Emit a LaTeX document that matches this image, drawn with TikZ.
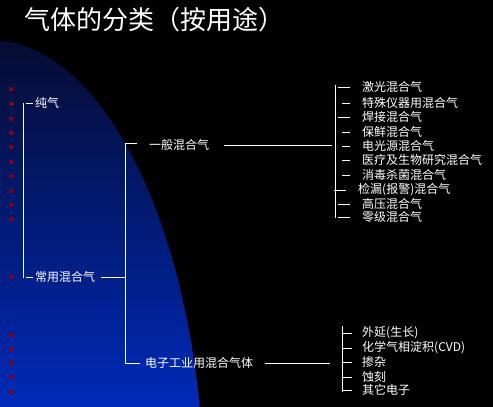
\documentclass[tikz,border=0pt]{standalone}
\usepackage{fontspec}
\setmainfont{Noto Sans CJK SC}
\usepackage{tikz}
\usetikzlibrary{positioning}
\definecolor{gasnavy}{RGB}{6,12,50}
\definecolor{gasblue}{RGB}{0,42,185}
\definecolor{gasred}{RGB}{128,0,24}
\tikzset{
  gaslabel/.style={text=white, inner sep=0pt, anchor=west, font=\fontsize{12}{14}\selectfont},
  treeline/.style={draw=white, line width=1pt},
}

\begin{document}
\begin{tikzpicture}[x=1pt,y=-1pt]
\fill[black] (0,0) rectangle (493,407);
\begin{scope}
  \clip (0,0) rectangle (493,407);
  \clip (-10,500) ellipse [x radius=214pt, y radius=460pt];
  \shade[top color=gasnavy, bottom color=gasblue] (-10,40) rectangle (220,407);
\end{scope}

\node[gaslabel, font=\fontsize{26}{30}\selectfont] (title) at (24,20) {气体的分类（按用途）};

\foreach \y in {89,104,119,133,147,162,176,191,205,219,277,335,349,363,377,392}
  \fill[gasred] (9,\y-2) rectangle (13,\y+2);

% left level
\node[gaslabel] (pure) at (35,103) {纯气};
\node[gaslabel] (common) at (35,277) {常用混合气};
\coordinate (ltop) at (23,103);
\coordinate (lbot) at (23,278);
\draw[treeline] (ltop) -- (lbot);
\draw[treeline] ([xshift=-9pt]pure.west) -- ([xshift=-2pt]pure.west);
\draw[treeline] ([xshift=-9pt]common.west) -- ([xshift=-2pt]common.west);

% middle level
\coordinate (mtop) at (125,143);
\coordinate (mbot) at (125,363);
\node[gaslabel] (general) at (149,145) {一般混合气};
\node[gaslabel] (elec) at (145,363) {电子工业用混合气体};
\draw[treeline] ([xshift=6pt]common.east) -- (common.east -| mtop);
\draw[treeline] (mtop) -- (mbot);
\draw[treeline] (mtop) -- ++(12,0);
\draw[treeline] (mbot) -- ([xshift=-5pt]elec.west);

% general mixtures
\coordinate (rtop) at (335,85);
\coordinate (rbot) at (335,218);
\draw[treeline] (rtop) -- (rbot);
\draw[treeline] ([xshift=15pt]general.east) -- ([xshift=-3pt]general.east -| rtop);
\foreach \y/\x/\t/\len [count=\i] in {
    87/362/激光混合气/12, 103/362/特殊仪器用混合气/8,
    117/362/焊接混合气/12, 132/362/保鲜混合气/8,
    146/362/电光源混合气/8, 160/362/医疗及生物研究混合气/8,
    175/362/消毒杀菌混合气/8, 190/358/检漏(报警)混合气/12,
    204/362/高压混合气/12, 217/362/零级混合气/12} {
  \node[gaslabel] (g\i) at (\x,\y) {\t};
  \draw[treeline] ([xshift=-12pt]g\i.west) -- ++(-\len,0);
}

% electronic mixtures
\coordinate (btop) at (342,326);
\coordinate (bbot) at (342,392);
\draw[treeline] (btop) -- (bbot);
\draw[treeline] ([xshift=12pt]elec.east) -- ([xshift=-12pt]elec.east -| btop);
\foreach \y/\t [count=\i] in {
    333/外延(生长), 348/化学气相淀积(CVD), 362/掺杂, 377/蚀刻, 390/其它电子} {
  \node[gaslabel] (e\i) at (362,\y) {\t};
  \draw[treeline] (e\i.west -| btop) -- ([xshift=-10pt]e\i.west);
}
\end{tikzpicture}
\end{document}
